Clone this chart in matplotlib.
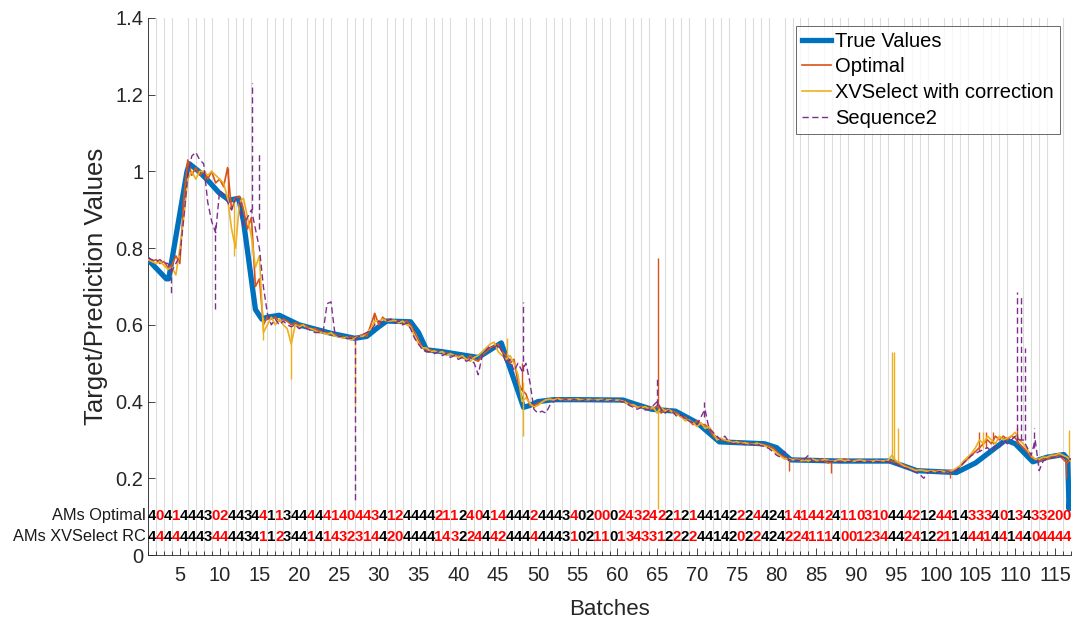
import numpy as np
import matplotlib
matplotlib.use("Agg")
import matplotlib.pyplot as plt
from matplotlib.ticker import FormatStrFormatter

plt.rcParams['font.family'] = ['Liberation Sans', 'DejaVu Sans']

# ---------------- data ----------------
# sample positions of the prediction series (every half batch)
batch_grid = np.arange(1.0, 117.01, 0.5)

# measured target: breakpoints of the piecewise trace
true_x = [1, 3.3, 3.6, 5.9, 6.2, 7.4, 8.6, 9.9, 11.2, 12.4, 13.0, 14.5, 15.3, 16.0,
          17.5, 20, 24, 27, 28.5, 30, 31, 34, 35, 36, 38, 41, 42.5, 45.4, 48.2, 49,
          50, 52, 55, 60.7, 62, 64.3, 67.3, 70, 72.8, 78.5, 80, 81.8, 88, 94.2, 96,
          97.6, 102.6, 105, 108.8, 110, 112.2, 114, 116.1, 116.6, 116.75, 117]
true_y = [0.77, 0.72, 0.72, 1.0, 1.02, 1.0, 0.975, 0.945, 0.925, 0.93, 0.87, 0.64,
          0.615, 0.62, 0.625, 0.6, 0.578, 0.565, 0.57, 0.595, 0.61, 0.608, 0.58,
          0.535, 0.53, 0.52, 0.515, 0.553, 0.385, 0.39, 0.40, 0.405, 0.405, 0.404,
          0.395, 0.38, 0.375, 0.345, 0.295, 0.29, 0.28, 0.248, 0.245, 0.245, 0.232,
          0.22, 0.215, 0.24, 0.30, 0.29, 0.243, 0.255, 0.262, 0.25, 0.12, 0.18]

optimal = (
    [0.775, 0.765, 0.77, 0.76, 0.765, 0.75, 0.755, 0.78, 0.76, 0.93, 1.03, 0.99, 1.01, 0.99, 1.0, 0.98, 1.0, 0.97, 0.98, 0.96]
    + [1.01, 0.9, 0.93, 0.935, 0.9, 0.85, 0.88, 0.7, 0.72, 0.6, 0.62, 0.615, 0.62, 0.61, 0.615, 0.61, 0.6, 0.605, 0.6, 0.6]
    + [0.595, 0.59, 0.59, 0.585, 0.58, 0.58, 0.575, 0.575, 0.57, 0.57, 0.565, 0.568, 0.566, 0.57, 0.575, 0.57, 0.6, 0.63, 0.6, 0.62]
    + [0.61, 0.615, 0.61, 0.61, 0.605, 0.61, 0.6, 0.58, 0.56, 0.54, 0.535, 0.535, 0.53, 0.53, 0.53, 0.525, 0.525, 0.52, 0.52, 0.515]
    + [0.51, 0.52, 0.51, 0.505, 0.52, 0.53, 0.54, 0.545, 0.55, 0.53, 0.52, 0.5, 0.51, 0.45, 0.43, 0.42, 0.39, 0.39, 0.395, 0.4]
    + [0.403, 0.407, 0.405, 0.41, 0.405, 0.408, 0.405, 0.406, 0.404, 0.407, 0.405, 0.404, 0.406, 0.405, 0.404, 0.406, 0.405, 0.404, 0.405, 0.403]
    + [0.4, 0.395, 0.39, 0.385, 0.388, 0.383, 0.385, 0.38, 0.39, 0.37, 0.38, 0.375, 0.375, 0.37, 0.36, 0.36, 0.35, 0.34, 0.35, 0.34]
    + [0.34, 0.33, 0.31, 0.305, 0.3, 0.3, 0.295, 0.295, 0.293, 0.295, 0.29, 0.292, 0.29, 0.288, 0.29, 0.287, 0.285, 0.28, 0.27, 0.26]
    + [0.255, 0.25, 0.25, 0.248, 0.25, 0.245, 0.25, 0.248, 0.245, 0.25, 0.245, 0.24, 0.245, 0.248, 0.245, 0.25, 0.248, 0.245, 0.247, 0.245]
    + [0.248, 0.245, 0.247, 0.245, 0.246, 0.244, 0.245, 0.245, 0.24, 0.235, 0.235, 0.23, 0.225, 0.222, 0.22, 0.222, 0.22, 0.218, 0.22, 0.218]
    + [0.215, 0.22, 0.22, 0.222, 0.23, 0.24, 0.25, 0.26, 0.27, 0.28, 0.29, 0.3, 0.29, 0.31, 0.3, 0.31, 0.3, 0.31, 0.305, 0.29]
    + [0.28, 0.27, 0.255, 0.25, 0.245, 0.25, 0.25, 0.255, 0.255, 0.26, 0.25, 0.24, 0.25]
)

xvselect = (
    [0.77, 0.765, 0.76, 0.765, 0.755, 0.745, 0.75, 0.73, 0.8, 0.88, 0.98, 1.0, 0.98, 1.0, 1.0, 0.99, 1.0, 0.99, 0.98, 0.97]
    + [0.93, 0.85, 0.8, 0.92, 0.93, 0.88, 0.83, 0.75, 0.78, 0.58, 0.6, 0.62, 0.6, 0.615, 0.6, 0.59, 0.55, 0.6, 0.595, 0.6]
    + [0.59, 0.59, 0.585, 0.58, 0.58, 0.575, 0.58, 0.57, 0.57, 0.565, 0.568, 0.56, 0.565, 0.57, 0.57, 0.58, 0.59, 0.61, 0.61, 0.615]
    + [0.61, 0.61, 0.612, 0.605, 0.61, 0.6, 0.595, 0.57, 0.55, 0.54, 0.54, 0.53, 0.532, 0.528, 0.53, 0.52, 0.525, 0.52, 0.515, 0.52]
    + [0.51, 0.505, 0.515, 0.52, 0.53, 0.54, 0.55, 0.555, 0.53, 0.52, 0.51, 0.52, 0.5, 0.47, 0.4, 0.41, 0.395, 0.385, 0.39, 0.398]
    + [0.405, 0.406, 0.404, 0.407, 0.405, 0.404, 0.406, 0.405, 0.407, 0.404, 0.405, 0.406, 0.404, 0.405, 0.406, 0.404, 0.405, 0.403, 0.404, 0.402]
    + [0.398, 0.39, 0.392, 0.386, 0.384, 0.387, 0.38, 0.385, 0.37, 0.385, 0.375, 0.38, 0.37, 0.365, 0.362, 0.35, 0.352, 0.345, 0.335, 0.345]
    + [0.33, 0.335, 0.32, 0.3, 0.305, 0.3, 0.298, 0.293, 0.296, 0.29, 0.293, 0.29, 0.288, 0.292, 0.288, 0.285, 0.28, 0.275, 0.265, 0.258]
    + [0.25, 0.252, 0.248, 0.25, 0.245, 0.248, 0.245, 0.25, 0.247, 0.245, 0.25, 0.247, 0.244, 0.246, 0.25, 0.245, 0.247, 0.244, 0.246, 0.248]
    + [0.245, 0.246, 0.244, 0.247, 0.245, 0.246, 0.247, 0.26, 0.245, 0.24, 0.232, 0.228, 0.225, 0.22, 0.222, 0.22, 0.218, 0.22, 0.217, 0.22]
    + [0.218, 0.216, 0.22, 0.225, 0.232, 0.245, 0.255, 0.265, 0.28, 0.3, 0.29, 0.31, 0.3, 0.29, 0.31, 0.3, 0.305, 0.31, 0.32, 0.3]
    + [0.29, 0.275, 0.26, 0.25, 0.25, 0.255, 0.255, 0.26, 0.26, 0.265, 0.26, 0.255, 0.245]
)

sequence2 = (
    [0.775, 0.77, 0.765, 0.77, 0.762, 0.76, 0.74, 0.76, 0.78, 0.88, 0.99, 1.04, 1.05, 1.03, 1.02, 0.92, 0.87, 0.84, 0.95, 0.94]
    + [0.92, 0.9, 0.93, 0.92, 0.86, 0.88, 0.9, 0.85, 0.8, 0.7, 0.63, 0.6, 0.615, 0.6, 0.61, 0.6, 0.595, 0.6, 0.59, 0.595]
    + [0.59, 0.585, 0.58, 0.58, 0.58, 0.655, 0.66, 0.575, 0.57, 0.57, 0.565, 0.565, 0.562, 0.57, 0.575, 0.58, 0.585, 0.6, 0.61, 0.605]
    + [0.61, 0.615, 0.605, 0.61, 0.6, 0.605, 0.59, 0.565, 0.55, 0.535, 0.53, 0.53, 0.525, 0.53, 0.52, 0.525, 0.515, 0.52, 0.51, 0.515]
    + [0.505, 0.51, 0.5, 0.47, 0.52, 0.535, 0.545, 0.54, 0.55, 0.53, 0.5, 0.51, 0.48, 0.5, 0.48, 0.5, 0.45, 0.38, 0.37, 0.375]
    + [0.37, 0.39, 0.4, 0.405, 0.403, 0.405, 0.402, 0.405, 0.404, 0.402, 0.405, 0.403, 0.404, 0.402, 0.403, 0.405, 0.402, 0.404, 0.403, 0.4]
    + [0.398, 0.39, 0.385, 0.38, 0.385, 0.378, 0.38, 0.39, 0.4, 0.38, 0.37, 0.378, 0.372, 0.36, 0.365, 0.355, 0.35, 0.345, 0.34, 0.36]
    + [0.38, 0.33, 0.32, 0.31, 0.3, 0.31, 0.295, 0.29, 0.292, 0.29, 0.288, 0.29, 0.287, 0.29, 0.285, 0.283, 0.278, 0.27, 0.26, 0.255]
    + [0.27, 0.25, 0.245, 0.248, 0.245, 0.25, 0.26, 0.245, 0.243, 0.245, 0.242, 0.245, 0.243, 0.245, 0.242, 0.244, 0.243, 0.245, 0.242, 0.244]
    + [0.243, 0.245, 0.242, 0.244, 0.243, 0.245, 0.243, 0.24, 0.238, 0.232, 0.228, 0.225, 0.22, 0.215, 0.21, 0.2, 0.215, 0.218, 0.215, 0.218]
    + [0.215, 0.217, 0.215, 0.22, 0.228, 0.24, 0.25, 0.26, 0.265, 0.27, 0.275, 0.28, 0.27, 0.285, 0.28, 0.3, 0.29, 0.3, 0.31, 0.3]
    + [0.3, 0.28, 0.26, 0.3, 0.22, 0.245, 0.25, 0.252, 0.255, 0.258, 0.255, 0.25, 0.25]
)

# short excursions: (batch, start value, extreme value)
optimal_spikes_x = [8.1, 11.0, 29.4, 48.0, 65.05, 81.6, 86.8, 101.8, 105.5, 106.3, 107.2, 110.2, 116.4]
optimal_spikes_lo = [0.98, 0.92, 0.6, 0.43, 0.38, 0.25, 0.245, 0.22, 0.27, 0.28, 0.29, 0.29, 0.25]
optimal_spikes_hi = [1.0, 1.01, 0.63, 0.5, 0.775, 0.22, 0.215, 0.2, 0.32, 0.32, 0.32, 0.33, 0.2]

xvselect_spikes_x = [11.8, 15.5, 19.0, 27.0, 46.1, 48.1, 65.1, 94.45, 94.7, 95.3, 105.9, 116.7]
xvselect_spikes_lo = [0.93, 0.62, 0.6, 0.565, 0.52, 0.45, 0.38, 0.25, 0.25, 0.245, 0.28, 0.255]
xvselect_spikes_hi = [0.78, 0.56, 0.46, 0.39, 0.565, 0.31, 0.12, 0.53, 0.53, 0.33, 0.32, 0.326]

sequence2_spikes_x = [3.9, 9.4, 14.05, 14.9, 27.0, 48.1, 65.0, 70.9, 110.2, 110.7, 111.2, 112.3]
sequence2_spikes_lo = [0.75, 0.86, 0.9, 0.85, 0.565, 0.48, 0.39, 0.36, 0.3, 0.3, 0.3, 0.28]
sequence2_spikes_hi = [0.68, 0.64, 1.23, 1.05, 0.14, 0.66, 0.46, 0.40, 0.685, 0.675, 0.54, 0.33]

# selected models per batch (one digit per batch 1..116)
ams_optimal = ("4041444302" "4434411344" "4441404434" "1244442112" "4041444424"
               "4434020002" "4324221214" "4142224424" "1414424110" "3104442124"
               "4143334013" "433200")
ams_xvselect = ("4444444344" "4434112344" "1414323144" "2044441432" "2444244444"
                "4431021101" "3433122224" "4142022424" "2241114001" "2344424122"
                "1144414414" "404444")

x_tick_values = list(range(5, 116, 5))
y_tick_values = [0, 0.2, 0.4, 0.6, 0.8, 1.0, 1.2, 1.4]

# ---------------- drawing ----------------
C_TRUE = '#0072BD'
C_OPT = '#D95319'
C_XV = '#EDB120'
C_SEQ = '#7E2F8E'
DASH = (0, (4.5, 2.5))

fig = plt.figure(figsize=(10.78, 6.27), dpi=100)
ax = fig.add_axes([0.1373, 0.1148, 0.8562, 0.8565])

ax.plot(true_x, true_y, color=C_TRUE, lw=3.8, label='True Values', zorder=3)
ax.plot(batch_grid, optimal, color=C_OPT, lw=1.2, label='Optimal', zorder=4)
ax.vlines(optimal_spikes_x, optimal_spikes_lo, optimal_spikes_hi, color=C_OPT, lw=1.0, zorder=4)
ax.plot(batch_grid, xvselect, color=C_XV, lw=1.2, label='XVSelect with correction', zorder=5)
ax.vlines(xvselect_spikes_x, xvselect_spikes_lo, xvselect_spikes_hi, color=C_XV, lw=1.0, zorder=5)
ax.plot(batch_grid, sequence2, color=C_SEQ, lw=1.0, ls=DASH, label='Sequence2', zorder=6)
ax.vlines(sequence2_spikes_x, sequence2_spikes_lo, sequence2_spikes_hi, color=C_SEQ, lw=1.0,
          linestyles=[DASH], zorder=6)

ax.set_xlim(1, 117)
ax.set_ylim(0, 1.4)
ax.set_xticks(x_tick_values)
ax.set_xticks(range(1, 118), minor=True)
ax.set_yticks(y_tick_values)
ax.yaxis.set_major_formatter(FormatStrFormatter('%g'))
ax.grid(True, which='minor', axis='x', color='#dcdcdc', lw=0.8)
ax.grid(False, which='major')
ax.set_axisbelow(True)
ax.tick_params(axis='both', which='major', direction='in', length=5, width=0.6,
               labelsize=14.5, colors='#262626')
ax.tick_params(axis='x', which='minor', direction='in', length=3, width=0.6, colors='#262626')
ax.tick_params(axis='x', which='major', pad=8)
for s in ['top', 'right']:
    ax.spines[s].set_visible(False)
for s in ['left', 'bottom']:
    ax.spines[s].set_color('#262626')
    ax.spines[s].set_linewidth(0.6)

ax.set_xlabel('Batches', fontsize=16, color='#262626', labelpad=10)
ax.set_ylabel('Target/Prediction Values', fontsize=18.5, color='#262626', labelpad=5)

# model selection strips
row_y = [0.102, 0.047]
row_labels = ['AMs Optimal', 'AMs XVSelect RC']
for yy, lab in zip(row_y, row_labels):
    ax.text(0.72, yy, lab, ha='right', va='center', fontsize=11.8, color='#1a1a1a', clip_on=False)
for i, (a, b) in enumerate(zip(ams_optimal, ams_xvselect)):
    col = 'red' if a != b else 'black'
    xc = i + 1.5
    ax.text(xc, row_y[0], a, ha='center', va='center', fontsize=10.8, fontweight='bold', color=col)
    ax.text(xc, row_y[1], b, ha='center', va='center', fontsize=10.8, fontweight='bold', color=col)

leg = ax.legend(loc='upper right', bbox_to_anchor=(0.9924, 0.993), fontsize=14.5,
                frameon=True, fancybox=False, handlelength=1.45, handletextpad=0.2,
                labelspacing=0.33, borderpad=0.3, borderaxespad=0.2)
leg.get_frame().set_edgecolor('#262626')
leg.get_frame().set_linewidth(0.6)

fig.savefig('out.png', dpi=100)
